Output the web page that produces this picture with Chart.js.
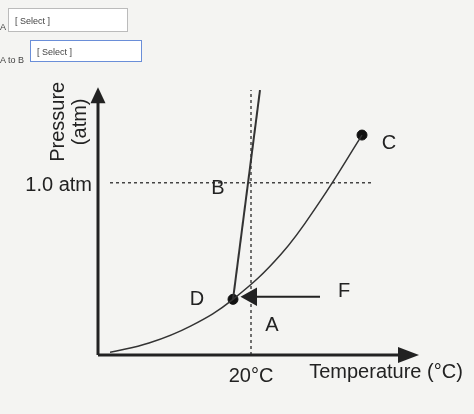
<!DOCTYPE html>
<html><head><meta charset="utf-8">
<script src="https://cdn.jsdelivr.net/npm/chart.js@4"></script>
<style>
body{margin:0;background:#f4f4f2;font-family:"Liberation Sans",Arial,sans-serif}
#wrap{position:relative;width:474px;height:414px}
canvas{position:absolute;left:0;top:0}
.sel{position:absolute;border:1px solid #bbb;background:#fff;font-size:9px;color:#444;padding:3px 6px;box-sizing:border-box}
.lbl{position:absolute;font-size:9px;color:#444}
</style></head><body>
<div id="wrap">
<canvas id="c" width="474" height="414"></canvas>
<div class="lbl" style="left:0;top:22px">A</div>
<div class="sel" style="left:8px;top:8px;width:120px;height:24px;padding-top:7px">[ Select ]</div>
<div class="lbl" style="left:0;top:55px">A to B</div>
<div class="sel" style="left:30px;top:40px;width:112px;height:22px;padding-top:6px;border-color:#6a8ed8">[ Select ]</div>
</div>
<script>
// vapour pressure curve (from low T up to point C)
const curveX = [0, 13, 27, 41, 57, 70, 84];
const curveY = [1, 4.5, 11, 21, 38, 58, 83];
// melting line from D upward
const meltX = [41, 50];
const meltY = [21, 100];
const oneAtm = 65, twentyC = 47;
const pointNames = ['D', 'C'];
const pointX = [41, 84];
const pointY = [21, 83];
const labels = [['B', 36, 63], ['D', 29, 21], ['A', 54, 11], ['F', 78, 24], ['C', 93, 80]];

const pts = (xs, ys) => xs.map((x, i) => ({x, y: ys[i]}));

const overlay = {
  id: 'overlay',
  afterDatasetsDraw(chart) {
    const c = chart.ctx, xs = chart.scales.x, ys = chart.scales.y;
    const X = v => xs.getPixelForValue(v), Y = v => ys.getPixelForValue(v);
    c.save();
    c.strokeStyle = '#222'; c.fillStyle = '#222'; c.lineWidth = 3;
    // axes
    c.beginPath(); c.moveTo(X(-4), Y(0)); c.lineTo(X(98), Y(0)); c.stroke();
    c.beginPath(); c.moveTo(X(-4), Y(0)); c.lineTo(X(-4), Y(98)); c.stroke();
    c.beginPath(); c.moveTo(X(103), Y(0)); c.lineTo(X(96), Y(3)); c.lineTo(X(96), Y(-3)); c.fill();
    c.beginPath(); c.moveTo(X(-4), Y(101)); c.lineTo(X(-6.5), Y(95)); c.lineTo(X(-1.5), Y(95)); c.fill();
    // arrow F -> D
    c.lineWidth = 2;
    c.beginPath(); c.moveTo(X(70), Y(22)); c.lineTo(X(45), Y(22)); c.stroke();
    c.beginPath(); c.moveTo(X(43.5), Y(22)); c.lineTo(X(49), Y(25.5)); c.lineTo(X(49), Y(18.5)); c.closePath(); c.fill();
    // text
    c.font = '20px "Liberation Sans", Arial';
    c.textAlign = 'center'; c.textBaseline = 'middle';
    labels.forEach(([t, x, y]) => c.fillText(t, X(x), Y(y)));
    c.fillText('20°C', X(twentyC), Y(-8));
    c.fillText('Temperature (°C)', X(92), Y(-6.5));
    c.textAlign = 'right';
    c.fillText('1.0 atm', X(-6), Y(oneAtm - 1));
    c.translate(X(-14), Y(88)); c.rotate(-Math.PI / 2);
    c.textAlign = 'center';
    c.fillText('Pressure', 0, -10);
    c.fillText('(atm)', 0, 12);
    c.restore();
  }
};

new Chart(document.getElementById('c'), {
  type: 'scatter',
  data: {
    datasets: [
      {data: pts(curveX, curveY), showLine: true, tension: 0.4, borderColor: '#333', borderWidth: 1.5, pointRadius: 0},
      {data: pts(meltX, meltY), showLine: true, borderColor: '#333', borderWidth: 2, pointRadius: 0},
      {data: [{x: -4, y: oneAtm}, {x: 88, y: oneAtm}], showLine: true, borderDash: [3, 3], borderColor: '#444', borderWidth: 1.5, pointRadius: 0},
      {data: [{x: twentyC, y: 0}, {x: twentyC, y: 100}], showLine: true, borderDash: [3, 3], borderColor: '#444', borderWidth: 1.5, pointRadius: 0},
      {data: pts(pointX, pointY), pointRadius: 5, backgroundColor: '#111', borderColor: '#111'}
    ]
  },
  options: {
    responsive: false, animation: false,
    layout: {padding: {left: 110, right: 64, top: 90, bottom: 59}},
    plugins: {legend: {display: false}, tooltip: {enabled: false}},
    scales: {
      x: {type: 'linear', min: 0, max: 100, display: false},
      y: {type: 'linear', min: 0, max: 100, display: false}
    }
  },
  plugins: [overlay]
});
</script>
</body></html>
